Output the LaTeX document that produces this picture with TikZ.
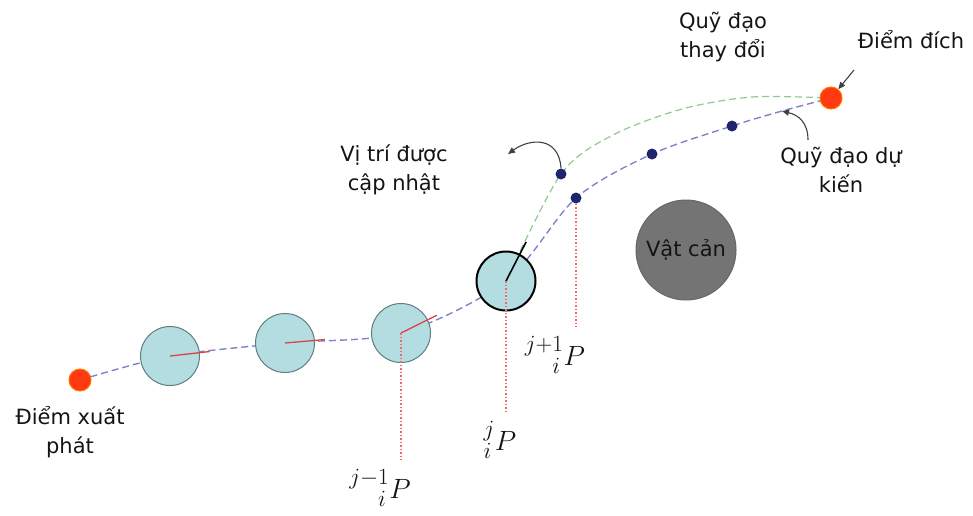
\documentclass[tikz,border=0pt]{standalone}
\usepackage[no-math]{fontspec}
\setmainfont{DejaVu Sans}
\usetikzlibrary{arrows.meta,positioning,calc,backgrounds}

\definecolor{robotfill}{HTML}{B4DDE1}
\definecolor{robotedge}{HTML}{5E7E80}
\definecolor{planblue}{HTML}{8282CA}
\definecolor{dotnavy}{HTML}{20246E}
\definecolor{replangreen}{HTML}{8ECB8E}
\definecolor{projred}{HTML}{F26868}
\definecolor{headred}{HTML}{D94444}
\definecolor{endred}{HTML}{FF3A12}
\definecolor{obsgray}{HTML}{747474}

\newcommand{\poselabel}[1]{\scalebox{1.12}{$#1$}}

\begin{document}
\begin{tikzpicture}[
  x=1pt, y=-1pt,
  every node/.style={font=\fontsize{21}{29}\selectfont, text=black!92},
  lbl/.style={align=center, inner sep=1pt},
  robot/.style={circle, draw=robotedge, line width=1pt, fill=robotfill, minimum size=59pt, inner sep=0pt},
  endpt/.style={circle, draw=orange!90!red, line width=1pt, fill=endred, minimum size=22pt, inner sep=0pt},
  waypt/.style={circle, fill=dotnavy, minimum size=11pt, inner sep=0pt},
  obstacle/.style={circle, draw=black!60, line width=1pt, fill=obsgray, minimum size=100pt, inner sep=0pt},
  plan/.style={draw=planblue, line width=1.4pt, dash pattern=on 7pt off 4pt},
  replan/.style={draw=replangreen, line width=1.2pt, dash pattern=on 7pt off 4pt},
  proj/.style={draw=projred, line width=1.1pt, dash pattern=on 1.5pt off 2pt},
  heading/.style={draw=headred, line width=1.3pt},
  callout/.style={-{Triangle[length=7pt, width=6pt]}, line width=1.1pt, black!75},
  plabel/.style={font=\fontsize{24.88}{28}\selectfont, inner sep=0pt}
]
\useasboundingbox (0,0) rectangle (973,515);

% ---------- Start, robot poses, goal ----------
\node[endpt] (start) at (80,380) {};
\node[lbl] (startlbl) at (70,432) {Điểm xuất\\phát};
\node[robot] (r1) at (170,356) {};
\node[robot] (r2) at (285,343) {};
\node[robot] (r3) at (401,333) {};
\node[robot, draw=black, line width=2pt] (r4) at (506,281) {};
\node[endpt] (goal) at (831,98) {};

% ---------- Planned / changed trajectory points ----------
\node[waypt] (d1) at (576,198) {};
\node[waypt] (d2) at (652,154) {};
\node[waypt] (d3) at (732,126) {};
\coordinate (tick) at (782,111);
\node[waypt] (gdot) at (561,174) {};
\coordinate (g1) at (613,135);
\coordinate (g2) at (682,109);
\coordinate (g3) at (752,97);

% ---------- Obstacle ----------
\node[obstacle] (obs) at (686,250) {Vật cản};

% ---------- Labels ----------
\node[lbl] (dichlbl) at (911,40) {Điểm đích};
\node[lbl] (replanlbl) at (723,37) {Quỹ đạo\\thay đổi};
\node[lbl] (planlbl) at (841,170) {Quỹ đạo dự\\kiến};
\node[lbl] (updlbl) at (394,170) {Vị trí được\\cập nhật};
\node[plabel] (pjm1) at (380,488) {\poselabel{{}^{j-1}_{\hphantom{j-}i}P}};
\node[plabel] (pj) at (500,440) {\poselabel{{}^{j}_{i}P}};
\node[plabel] (pjp1) at (555,355) {\poselabel{{}^{j+1}_{\hphantom{j+}i}P}};

% ---------- Trajectories ----------
\begin{scope}[on background layer]
\draw[plan] plot[smooth, tension=0.5] coordinates {(start.center) (r1.center) (r2.center) (r3.center) (r4.center) (d1.center) (d2.center) (d3.center) (tick) (goal.center)};
\draw[replan] plot[smooth, tension=0.5] coordinates {(r4.center) (gdot.center) (g1) (g2) (g3) (goal.center)};
\end{scope}

% headings inside the robot poses
\draw[heading] (r1.center) -- ($(r1.center)!40pt!(r2.center)$);
\draw[heading] (r2.center) -- ($(r2.center)!40pt!(r3.center)$);
\draw[heading] (r3.center) -- ($(r3.center)!40pt!(r4.center)$);
\draw[line width=1.6pt] (r4.center) -- ($(r4.center)!44pt!(gdot.center)$);

% ---------- Projections ----------
\draw[proj] (r3.center) -- ([yshift=10pt]r3.center |- pjm1.north);
\draw[proj] (r4.center) -- ([yshift=10pt]r4.center |- pj.north);
\draw[proj] (d1.south) -- ([yshift=10pt]d1.center |- pjp1.north);

% ---------- Callouts ----------
\coordinate (updtip) at (508,154);
\coordinate (kientail) at (808,140);
\coordinate (dichtail) at (854,70);
\draw[callout] (gdot.north) .. controls +(-2,-32) and +(22,-16) .. (updtip);
\draw[callout] (kientail) .. controls +(0,-18) and +(16,4) .. (tick);
\draw[callout] (dichtail) -- (goal);
\end{tikzpicture}
\end{document}
